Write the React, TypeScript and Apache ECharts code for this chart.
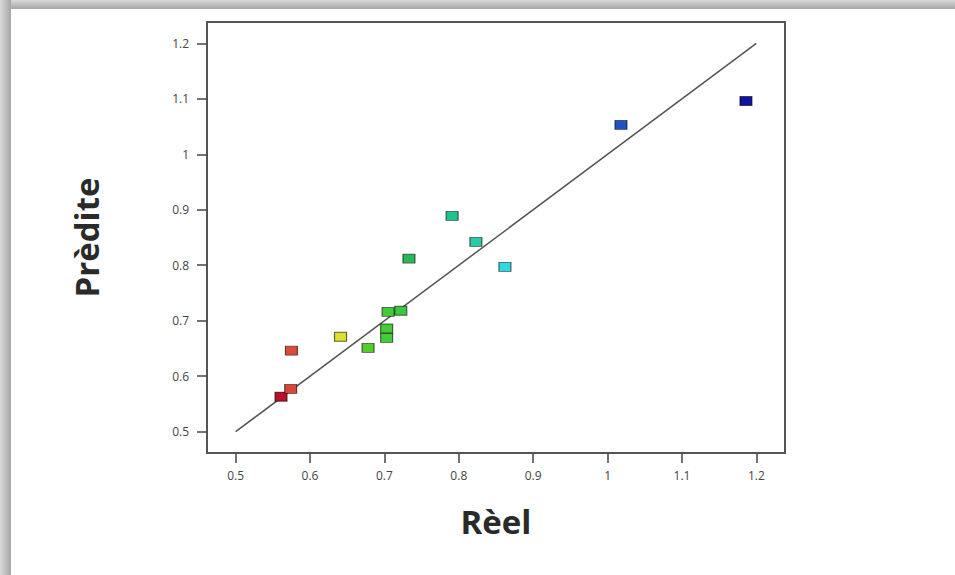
import React, { useEffect, useRef } from "react";
import * as echarts from "echarts";

const reel = [0.561, 0.574, 0.575, 0.641, 0.678, 0.703, 0.703, 0.705, 0.722, 0.733, 0.791, 0.823, 0.862, 1.018, 1.186];
const predite = [0.563, 0.577, 0.646, 0.671, 0.651, 0.669, 0.686, 0.716, 0.718, 0.812, 0.889, 0.842, 0.797, 1.053, 1.096];
const tickValues = [0.5, 0.6, 0.7, 0.8, 0.9, 1, 1.1, 1.2];
const fitLine = [[0.5, 0.5], [1.2, 1.2]];
const xTitle = "Rèel";
const yTitle = "Prèdite";

const colorStops: [number, string][] = [
  [0.56, "#b80c28"],
  [0.575, "#dc4a38"],
  [0.64, "#e0e02c"],
  [0.68, "#4ccc2c"],
  [0.72, "#3ccc3c"],
  [0.735, "#2cb45e"],
  [0.79, "#1ec48c"],
  [0.825, "#2ccaa8"],
  [0.862, "#30d8e4"],
  [1.02, "#2050c4"],
  [1.19, "#1010a0"],
];

function hexToRgb(h: string) {
  const n = parseInt(h.slice(1), 16);
  return [(n >> 16) & 255, (n >> 8) & 255, n & 255];
}
function colorFor(v: number) {
  if (v <= colorStops[0][0]) return colorStops[0][1];
  for (let i = 1; i < colorStops.length; i++) {
    const [v1, c1] = colorStops[i];
    const [v0, c0] = colorStops[i - 1];
    if (v <= v1) {
      const t = (v - v0) / (v1 - v0);
      const a = hexToRgb(c0);
      const b = hexToRgb(c1);
      const m = a.map((x, k) => Math.round(x + (b[k] - x) * t));
      return `rgb(${m[0]},${m[1]},${m[2]})`;
    }
  }
  return colorStops[colorStops.length - 1][1];
}

export default function App() {
  const ref = useRef<HTMLDivElement>(null);
  useEffect(() => {
    if (!ref.current) return;
    const chart = echarts.init(ref.current, null, { renderer: "svg" });
    const tick = {
      show: true,
      inside: false,
      customValues: tickValues,
      length: 10,
      lineStyle: { color: "#444", width: 1.5 },
    };
    const label = {
      show: true,
      customValues: tickValues,
      color: "#444",
      fontSize: 12,
      fontFamily: "Open Sans",
      formatter: (v: number) => String(Math.round(v * 10) / 10),
    };
    const axisCommon = {
      type: "value" as const,
      min: 0.4615,
      max: 1.2385,
      splitLine: { show: false },
      axisLine: { show: true, lineStyle: { color: "#555", width: 2 } },
    };
    chart.setOption({
      animation: false,
      backgroundColor: "#ffffff",
      grid: {
        left: 207,
        top: 22,
        right: 170,
        bottom: 122,
        show: true,
        borderColor: "#555",
        borderWidth: 2,
        backgroundColor: "transparent",
      },
      xAxis: {
        ...axisCommon,
        axisTick: tick,
        axisLabel: { ...label, margin: 16 },
        name: xTitle,
        nameLocation: "middle",
        nameGap: 52,
        nameTextStyle: { fontSize: 33, fontWeight: "bold", color: "#2a2a2a", fontFamily: "Open Sans" },
      },
      yAxis: {
        ...axisCommon,
        axisTick: tick,
        axisLabel: { ...label, margin: 18 },
        name: yTitle,
        nameLocation: "middle",
        nameGap: 104,
        nameTextStyle: { fontSize: 33, fontWeight: "bold", color: "#2a2a2a", fontFamily: "Open Sans" },
      },
      graphic: [
        {
          type: "rect",
          shape: { x: 0, y: 0, width: 955, height: 9 },
          style: {
            fill: new echarts.graphic.LinearGradient(0, 0, 0, 1, [
              { offset: 0, color: "#dadada" },
              { offset: 1, color: "#a6a6a6" },
            ]),
          },
          silent: true,
        },
        {
          type: "rect",
          shape: { x: 0, y: 0, width: 11, height: 575 },
          style: {
            fill: new echarts.graphic.LinearGradient(0, 0, 1, 0, [
              { offset: 0, color: "#dadada" },
              { offset: 1, color: "#a6a6a6" },
            ]),
          },
          silent: true,
        },
      ],
      series: [
        {
          type: "line",
          data: fitLine,
          showSymbol: false,
          symbol: "none",
          lineStyle: { color: "#555", width: 1.5 },
          z: 2,
          silent: true,
        },
        {
          type: "scatter",
          data: reel.map((x, i) => [x, predite[i]]),
          symbol: "rect",
          symbolSize: [12, 9],
          itemStyle: {
            color: (p: any) => colorFor(p.value[0]),
            borderColor: "rgba(0,0,0,0.6)",
            borderWidth: 1,
            opacity: 1,
          },
          z: 3,
        },
      ],
    });
    return () => chart.dispose();
  }, []);
  return (
    <div
      ref={ref}
      style={{ position: "fixed", left: 0, top: 0, width: 955, height: 575 }}
    />
  );
}
